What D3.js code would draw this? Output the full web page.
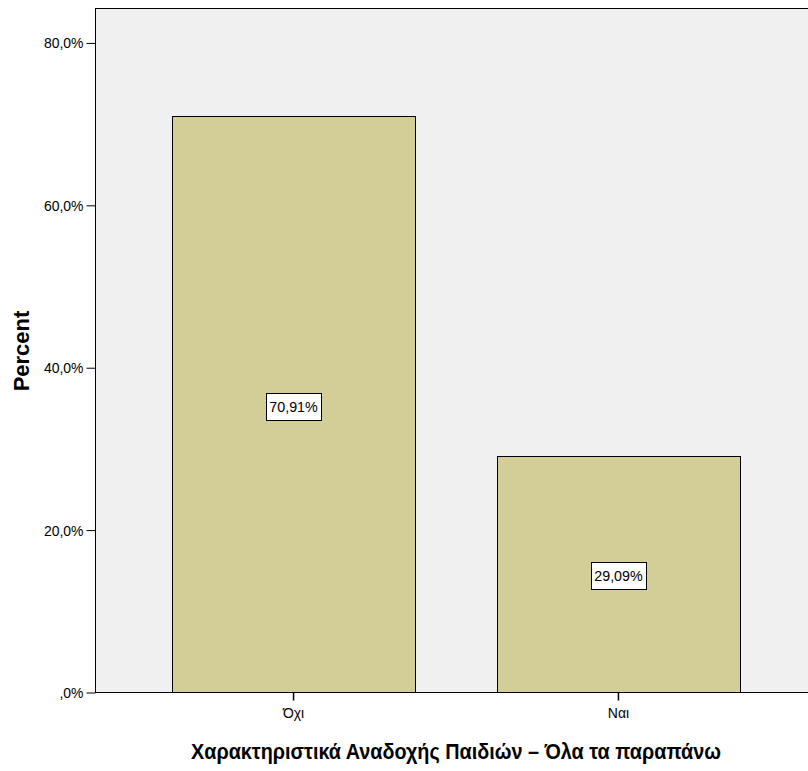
<!DOCTYPE html>
<html><head><meta charset="utf-8">
<script src="https://cdn.jsdelivr.net/npm/d3@7"></script>
<style>
html,body{margin:0;padding:0;background:#fff;}
text{font-family:"Liberation Sans Narrow","Arial Narrow","Liberation Sans",Arial,sans-serif;}
</style></head>
<body>
<svg id="c" width="808" height="771"></svg>
<script>
const categories = ["Όχι", "Ναι"];
const percents = [70.91, 29.09];
const valueLabels = ["70,91%", "29,09%"];
const yTicks = [0, 20, 40, 60, 80];
const yTickLabels = [",0%", "20,0%", "40,0%", "60,0%", "80,0%"];
const xTitle = "Χαρακτηριστικά Αναδοχής Παιδιών – Όλα τα παραπάνω";
const yTitle = "Percent";

const svg = d3.select("#c");
const L = 95.5, T = 8.5, R = 816, B = 692.5;

const y = d3.scaleLinear().domain([0, 84.24]).range([692, 8]);
const x = d3.scaleBand().domain(categories).range([96, 816]).paddingInner(0.252).paddingOuter(0.234);

function condense(sel, f) {
  sel.each(function () {
    const w = this.getComputedTextLength();
    d3.select(this).attr("textLength", w * f).attr("lengthAdjust", "spacingAndGlyphs");
  });
}

svg.append("rect").attr("x", L).attr("y", T).attr("width", R - L).attr("height", B - T)
  .attr("fill", "#f0f0f0").attr("stroke", "#000").attr("stroke-width", 1);

const bars = svg.append("g");
categories.forEach((c, i) => {
  const top = Math.round(y(percents[i]));
  bars.append("rect")
    .attr("x", Math.round(x(c)) + 0.5)
    .attr("y", top + 0.5)
    .attr("width", Math.round(x.bandwidth()))
    .attr("height", y(0) - top)
    .attr("fill", "#d3ce97").attr("stroke", "#000").attr("stroke-width", 1);
});

// value label boxes
categories.forEach((c, i) => {
  const cx = x(c) + x.bandwidth() / 2;
  const cy = (y(percents[i]) + y(0)) / 2 + 2;
  const g = svg.append("g");
  const t = g.append("text").attr("x", cx).attr("y", cy + 5.5)
    .attr("text-anchor", "middle").attr("font-size", 15.5).attr("fill", "#000").text(valueLabels[i]);
  condense(t, 0.92);
  const w = 55, h = 27;
  g.insert("rect", "text").attr("x", Math.round(cx - w / 2) + 0.5).attr("y", Math.round(cy - h / 2) + 0.5)
    .attr("width", w).attr("height", h).attr("fill", "#fff").attr("stroke", "#000").attr("stroke-width", 1);
});

// y axis
const yAxis = d3.axisLeft(y).tickValues(yTicks).tickSize(9).tickPadding(3)
  .tickFormat((d, i) => yTickLabels[i]);
const ya = svg.append("g").attr("transform", `translate(${L},0.5)`).call(yAxis);
ya.select(".domain").remove();
ya.selectAll("line").attr("stroke", "#000");
ya.selectAll("text").attr("font-size", 15.5).attr("fill", "#000")
  .attr("font-family", '"Liberation Sans Narrow","Arial Narrow","Liberation Sans",Arial,sans-serif');
condense(ya.selectAll("text"), 0.9);

// x axis
const xAxis = d3.axisBottom(x).tickSize(8).tickPadding(6);
const xa = svg.append("g").attr("transform", `translate(0,${B})`).call(xAxis);
xa.select(".domain").remove();
xa.selectAll("line").attr("stroke", "#000").attr("stroke-width", 1.5);
xa.selectAll("text").attr("font-size", 15.5).attr("fill", "#000")
  .attr("font-family", '"Liberation Sans Narrow","Arial Narrow","Liberation Sans",Arial,sans-serif');
condense(xa.selectAll("text"), 0.9);

const xt = svg.append("text").attr("x", 456).attr("y", 759).attr("text-anchor", "middle")
  .attr("font-size", 21.5).attr("font-weight", "bold").attr("fill", "#000").text(xTitle);
xt.attr("textLength", 530).attr("lengthAdjust", "spacingAndGlyphs");

svg.append("text").attr("transform", "translate(29,351) rotate(-90)").attr("text-anchor", "middle")
  .attr("font-size", 22).attr("font-weight", "bold").attr("fill", "#000")
  .style("font-family", '"Liberation Sans",Arial,sans-serif').text(yTitle);
</script>
</body></html>
